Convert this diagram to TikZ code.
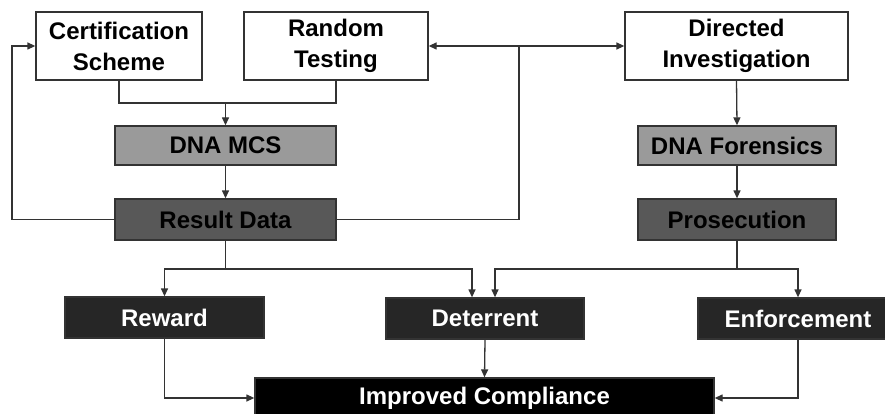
\documentclass[tikz,border=0pt]{standalone}
\usepackage{fontspec}
\setmainfont{Liberation Sans}
\usepackage{xcolor}
\usepackage{tikz}
\usetikzlibrary{arrows.meta,positioning,calc}

\definecolor{lightbox}{HTML}{9A9A9A}
\definecolor{midbox}{HTML}{585858}
\definecolor{darkbox}{HTML}{262626}
\definecolor{edgecol}{HTML}{333333}

\begin{document}
\begin{tikzpicture}[
    x=1pt, y=-1pt,
    font=\fontsize{24}{31}\selectfont\bfseries,
    box/.style={draw=edgecol, line width=1.3pt, inner sep=0pt,
                align=center, fill=#1},
    arr/.style={-{Triangle[length=8pt,width=7pt]}, line width=1.3pt, draw=edgecol},
    ln/.style={line width=1.3pt, draw=edgecol}
]
\useasboundingbox (0,0) rectangle (885,414);

%% INPUT SCHEMES
\node[box=white, minimum width=166pt, minimum height=68pt]
    (cert) at (119,46) {Certification\\Scheme};
\node[box=white, minimum width=184pt, minimum height=68pt]
    (random) at (336,46) {Random\\Testing};
\node[box=white, minimum width=223pt, minimum height=68pt]
    (directed) at (736.5,46) {Directed\\Investigation};

%% ANALYSIS
\node[box=lightbox, minimum width=221pt, minimum height=39pt]
    (mcs) at (225.5,145.5) {DNA MCS};
\node[box=midbox, minimum width=221pt, minimum height=41pt]
    (result) at (225.5,219.5) {Result Data};
\node[box=lightbox, minimum width=198pt, minimum height=39pt]
    (forensics) at (737,145.5) {DNA Forensics};
\node[box=midbox, minimum width=198pt, minimum height=41pt]
    (prosec) at (737,219.5) {Prosecution};

%% OUTCOMES
\node[box=darkbox, text=white, minimum width=199pt, minimum height=41pt]
    (reward) at (164.5,317.5) {Reward};
\node[box=darkbox, text=white, minimum width=198pt, minimum height=41pt]
    (deter) at (485,318.5) {Deterrent};
\node[box=darkbox, text=white, minimum width=200pt, minimum height=41pt]
    (enforce) at (798,318.5) {Enforcement};

%% GOAL
\node[box=black, text=white, minimum width=459pt, minimum height=40pt]
    (improved) at (484.5,398) {Improved Compliance};

%% JUNCTIONS
\coordinate (mj) at (225.5,103);
\coordinate (tj) at (519,46);
\coordinate (rj) at (225.5,269);
\coordinate (pj) at (737,269);

%% schemes merge into DNA MCS
\draw[ln] (cert.south) |- (mj) -| (random.south);
\draw[arr] (mj) -- (mcs.north);
\draw[arr] (mcs.south) -- (result.north);

%% directed investigation chain
\draw[arr] (directed.south) -- (forensics.north);
\draw[arr] (forensics.south) -- (prosec.north);

%% feedback from result data
\draw[arr] (result.west) -- (12,219.5) |- (cert.west);
\draw[arr, {Triangle[length=8pt,width=7pt]}-{Triangle[length=8pt,width=7pt]}]
    (random.east) -- (directed.west);
\draw[ln] (result.east) -| (tj);

%% result data to outcomes
\draw[ln] (result.south) -- (rj);
\draw[arr] (rj) -| (reward.north);
\draw[arr] (rj) -| ([xshift=-13pt]deter.north);

%% prosecution to outcomes
\draw[ln] (prosec.south) -- (pj);
\draw[arr] (pj) -| ([xshift=10pt]deter.north);
\draw[arr] (pj) -| (enforce.north);

%% outcomes to compliance
\draw[arr] (reward.south) |- (improved.west);
\draw[arr] (deter.south) -- (improved.north);
\draw[arr] (enforce.south) |- (improved.east);

\end{tikzpicture}
\end{document}
